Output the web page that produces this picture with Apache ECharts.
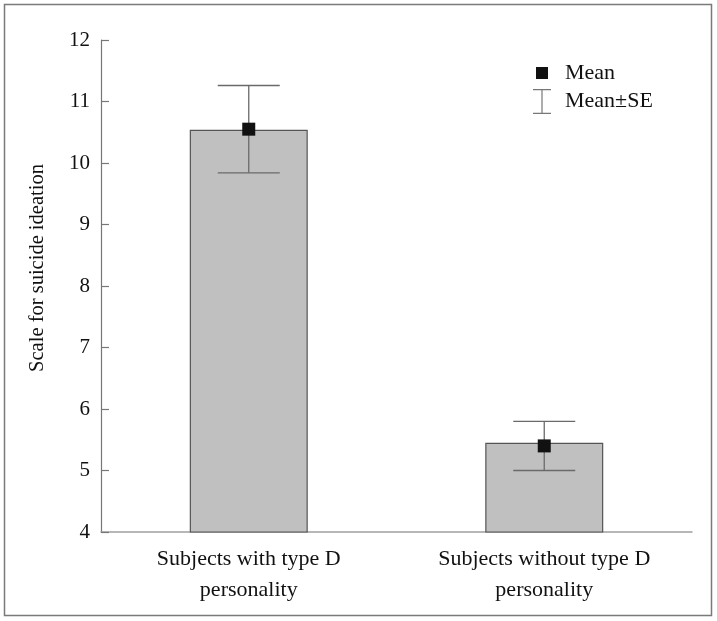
<!DOCTYPE html>
<html>
<head>
<meta charset="utf-8">
<script src="https://cdn.jsdelivr.net/npm/echarts@6/dist/echarts.min.js"></script>
<style>
  html, body { margin: 0; padding: 0; background: #fff; }
  #chart { width: 717px; height: 621px; }
</style>
</head>
<body>
<div id="chart"></div>
<script>
// data
var categories = ["Subjects with type D\npersonality", "Subjects without type D\npersonality"];
var barValues = [10.54, 5.45];
var meanValues = [10.55, 5.40];
var seLow = [9.84, 5.00];
var seHigh = [11.26, 5.80];

var FONT = "Liberation Serif";

var chart = echarts.init(document.getElementById("chart"));

var errData = categories.map(function (c, i) {
  return [i, seLow[i], seHigh[i]];
});

chart.setOption({
  animation: false,
  grid: { left: 101, right: 25, top: 40, bottom: 89 },
  graphic: [
    {
      type: "rect",
      shape: { x: 4.5, y: 4.5, width: 707, height: 611 },
      style: { fill: "none", stroke: "#7a7a7a", lineWidth: 1.5 },
      z: 0
    },
    {
      type: "text",
      x: 38,
      y: 268,
      rotation: Math.PI / 2,
      style: {
        text: "Scale for suicide ideation",
        font: "20.5px " + FONT,
        fill: "#111",
        align: "center",
        verticalAlign: "middle"
      }
    }
  ],
  legend: [
    {
      data: [{ name: "Mean", icon: "rect" }],
      left: 536,
      top: 62,
      padding: 0,
      itemWidth: 12,
      itemHeight: 12,
      selectedMode: false,
      textStyle: { fontFamily: FONT, fontSize: 22, color: "#111", padding: [0, 0, 0, 12] }
    },
    {
      data: [{
        name: "Mean±SE",
        icon: "path://M0,0H18V1.2H9.6V23.8H18V25H0V23.8H8.4V1.2H0Z",
        itemStyle: { color: "#777" }
      }],
      left: 533,
      top: 89,
      padding: 0,
      itemWidth: 18,
      itemHeight: 25,
      selectedMode: false,
      textStyle: { fontFamily: FONT, fontSize: 22, color: "#111", padding: [0, 0, 0, 9] }
    }
  ],
  xAxis: {
    type: "category",
    data: categories,
    axisTick: { show: false },
    axisLine: { lineStyle: { color: "#a0a0a0", width: 1.5 } },
    axisLabel: {
      fontFamily: FONT,
      fontSize: 22,
      color: "#111",
      lineHeight: 31,
      margin: 12
    }
  },
  yAxis: {
    type: "value",
    min: 4,
    max: 12,
    interval: 1,
    splitLine: { show: false },
    axisLine: { show: true, lineStyle: { color: "#777", width: 1.2 } },
    axisTick: { show: true, inside: true, length: 8, lineStyle: { color: "#777", width: 1.2 } },
    axisLabel: { fontFamily: FONT, fontSize: 21, color: "#111", margin: 11 }
  },
  series: [
    {
      name: "bar",
      type: "bar",
      data: barValues,
      barWidth: 118,
      itemStyle: { color: "#c0c0c0", borderColor: "#555", borderWidth: 1.2 },
      z: 2
    },
    {
      name: "Mean±SE",
      type: "custom",
      data: errData,
      itemStyle: { color: "#777" },
      z: 3,
      renderItem: function (params, api) {
        var x = api.value(0);
        var lo = api.coord([x, api.value(1)]);
        var hi = api.coord([x, api.value(2)]);
        var half = 31;
        var st = { stroke: "#6a6a6a", lineWidth: 1.3 };
        return {
          type: "group",
          children: [
            { type: "line", shape: { x1: hi[0], y1: hi[1], x2: lo[0], y2: lo[1] }, style: st },
            { type: "line", shape: { x1: hi[0] - half, y1: hi[1], x2: hi[0] + half, y2: hi[1] }, style: st },
            { type: "line", shape: { x1: lo[0] - half, y1: lo[1], x2: lo[0] + half, y2: lo[1] }, style: st }
          ]
        };
      }
    },
    {
      name: "Mean",
      type: "scatter",
      data: meanValues,
      symbol: "rect",
      symbolSize: 13,
      itemStyle: { color: "#111", opacity: 1 },
      z: 4
    }
  ]
});
</script>
</body>
</html>
